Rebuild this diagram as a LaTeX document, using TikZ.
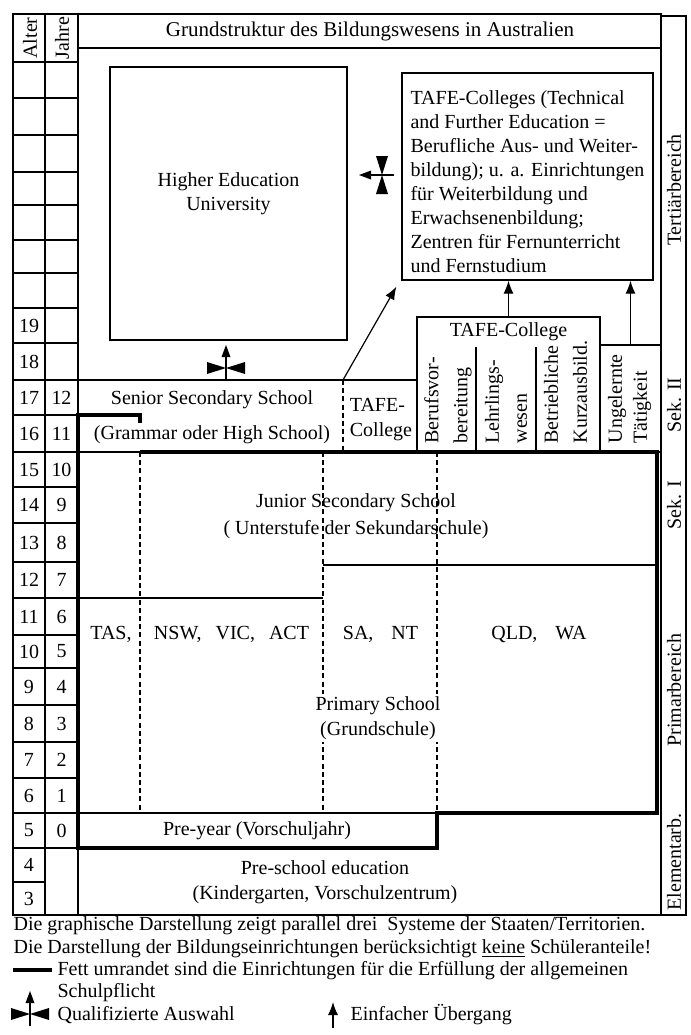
\documentclass[tikz,border=0pt]{standalone}
\usepackage{fontspec}
\setmainfont{Liberation Serif}
\usetikzlibrary{arrows.meta}

\begin{document}
\begin{tikzpicture}[x=0.5pt, y=-0.5pt, line width=0.6pt,
  thickline/.style={line width=1.8pt},
  dashline/.style={dash pattern=on 2.5pt off 1.6pt},
  box/.style={draw, inner sep=0pt},
  vtext/.style={rotate=90, align=left, anchor=west, inner sep=0pt},
  arr/.style={-{Latex[length=6.5pt,width=5pt]}},
  qualsel/.pic={
    \draw (0,12) -- (0,-12);
    \fill (-4.5,-11) -- (4.5,-11) -- (0,-23) -- cycle;
    \fill (-19,-6) -- (-19,6) -- (0,0) -- cycle;
    \fill (19,-6) -- (19,6) -- (0,0) -- cycle;
  }]

  \useasboundingbox (0,0) rectangle (691,1035);

  % frame, header and side column
  \draw (13,14) rectangle (661,915);
  \draw (661,16) rectangle (686,915);
  \draw (45,14) -- (45,915);
  \draw (78,14) -- (78,915);
  \draw (78,48) -- (661,48);
  \node[font=\fontsize{10.5}{12}\selectfont] (title) at (370,31) {Grundstruktur des Bildungswesens in Australien};
  \node[rotate=90] (alterHead) at (30,38) {Alter};
  \node[rotate=90] (jahreHead) at (62,38) {Jahre};

  % rows of the age columns
  \foreach \y in {62,98,135,172,205,240,273,308,343,380,415,452,487,523,562,598,635,668,705,742,778,813,848}
    \draw (13,\y) -- (78,\y);
  \draw (13,882) -- (45,882);

  \foreach \age/\yc in {19/325.5,18/361.5,17/397.5,16/433.5,15/469.5,14/505,13/542.5,12/580,
                        11/616.5,10/651.5,9/686.5,8/723.5,7/760,6/795.5,5/830.5,4/865,3/898.5} {
    \node (alter\age) at (29,\yc) {\age};
    \pgfmathtruncatemacro{\jahr}{\age-5}
    \ifnum\jahr>-1
      \ifnum\jahr<13
        \node (jahre\age) at (61.5,\yc) {\jahr};
      \fi
    \fi
  }

  % tertiary level
  \node[box, minimum width=118.5pt, minimum height=136.5pt] (higherBox) at (228.5,203.5) {};
  \node[align=center] (higherEdu) at (228.5,193.5) {Higher Education\\University};
  \node[box, minimum width=125.5pt, minimum height=103.5pt] (tafeBox) at (527.5,176.5) {};
  \node[align=left] (tafeText) at (527.5,182) {TAFE-Colleges (Technical\\
    and Further Education =\\
    Berufliche Aus- und Weiter-\\
    bildung); u. a. Einrichtungen\\
    für Weiterbildung und\\
    Erwachsenenbildung;\\
    Zentren für Fernunterricht\\
    und Fernstudium};
  \pic at (226,368) {qualsel};
  \pic[rotate=90] at (382,175) {qualsel};

  % upper secondary
  \draw (78,380) -- (417,380);
  \coordinate (seniorCorner) at (343,380);
  \draw[dashline] (seniorCorner) -- (343,452);
  \node[align=center] (senior) at (212,417.5) {Senior Secondary School\\[5.5pt](Grammar oder High School)};
  \node[align=left] (tafeSmall) at (381,419.5) {TAFE-\\[0.5pt]College};
  \node[box, minimum width=91.5pt, minimum height=67.5pt] (tafeCollege) at (508.5,384.5) {};
  \node (tafeCollegeHead) at (508.5,332) {TAFE-College};
  \draw (476,347) -- (476,452);
  \draw (536,347) -- (536,452);
  \node[vtext] (berufsvor) at (448,444) {Berufsvor-\\[2.5pt]bereitung};
  \node[vtext] (lehrling) at (506,444) {Lehrlings-\\[2pt]wesen};
  \node[vtext] (betrieb) at (565.5,444) {Betriebliche\\[2.5pt]Kurzausbild.};
  \node[box, minimum width=30.5pt, minimum height=53.5pt] (ungelernt) at (630.5,398.5) {};
  \node[vtext] (ungelerntText) at (629.5,444) {Ungelernte\\[0.5pt]Tätigkeit};

  \draw[arr] (tafeCollege.north) -- (tafeCollege.north |- tafeBox.south);
  \draw[arr] (ungelernt.north) -- (ungelernt.north |- tafeBox.south);
  \draw[arr] (seniorCorner) -- ([shift={(-5,6)}]tafeBox.south west);

  % compulsory schooling and lower levels
  \draw (78,452) -- (140,452);
  \draw (78,598) -- (323,598);
  \draw (323,565) -- (657,565);
  \draw (78,813) -- (437,813);
  \foreach \x in {140,323,437}
    \draw[dashline] (\x,452) -- (\x,813);
  \draw[thickline] (140,423) -- (140,415) -- (78,415) -- (78,848) -- (437,848) -- (437,813)
    -- (657,813) -- (657,452) -- (140,452);

  \node[align=center] (junior) at (356,516.5) {Junior Secondary School\\[1.5pt]( Unterstufe der Sekundarschule)};
  \node (tas) at (111,634) {TAS,};
  \node (nsw) at (231.5,634) {NSW,\hskip 7pt VIC,\hskip 7pt ACT};
  \node (sant) at (380.5,634) {SA,\hskip 9pt NT};
  \node (qldwa) at (539,634) {QLD,\hskip 9pt WA};
  \node[align=center, fill=white, inner sep=1pt] (primary) at (378,718) {Primary School\\[0.5pt](Grundschule)};
  \node (preYear) at (257,831) {Pre-year (Vorschuljahr)};
  \node[align=center] (preSchool) at (325,882.5) {Pre-school education\\[0.5pt](Kindergarten, Vorschulzentrum)};

  % levels on the right
  \node[rotate=90] (tertiaer) at (674,190) {Tertiärbereich};
  \node[rotate=90] (sekII) at (674,405) {Sek. II};
  \node[rotate=90] (sekI) at (674,505) {Sek. I};
  \node[rotate=90] (primar) at (674,690) {Primarbereich};
  \node[rotate=90] (elementar) at (674,862) {Elementarb.};

  % notes and legend
  \node[anchor=base west, inner sep=0pt] (note1) at (13,930) {Die graphische Darstellung zeigt parallel drei\ \ Systeme der Staaten/Territorien.};
  \node[anchor=base west, inner sep=0pt] (note2) at (13,953) {Die Darstellung der Bildungseinrichtungen berücksichtigt \underline{keine} Schüleranteile!};
  \draw[line width=2pt] (13,970) -- (52,970);
  \node[anchor=base west, inner sep=0pt] (note3) at (57,975) {Fett umrandet sind die Einrichtungen für die Erfüllung der allgemeinen};
  \node[anchor=base west, inner sep=0pt] (note4) at (57,997) {Schulpflicht};
  \pic at (30,1014) {qualsel};
  \node[anchor=base west, inner sep=0pt] (legendSel) at (57,1020) {Qualifizierte Auswahl};
  \coordinate (legendFoot) at (333,1028);
  \coordinate (legendTip) at (333,1002);
  \draw[arr] (legendFoot) -- (legendTip);
  \node[anchor=base west, inner sep=0pt] (legendArrow) at (350,1020) {Einfacher Übergang};

\end{tikzpicture}
\end{document}
